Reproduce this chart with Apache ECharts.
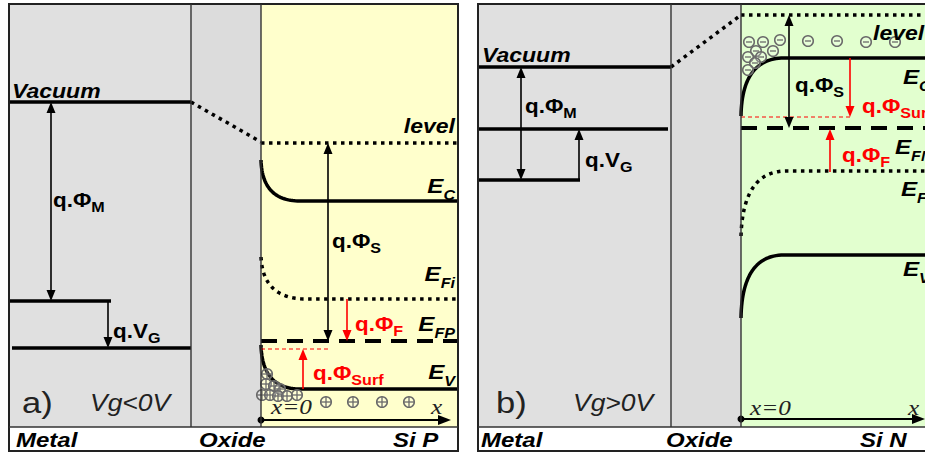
<!DOCTYPE html>
<html><head><meta charset="utf-8">
<script src="https://cdn.jsdelivr.net/npm/echarts@6/dist/echarts.min.js"></script>
<style>html,body{margin:0;padding:0;background:#fff}#c{width:925px;height:454px}</style>
</head><body><div id="c"></div>
<script>
// ================= DATA (diagram units; y grows downward = lower energy) =================
// zone boundaries per panel [a, b]
const frameLeft  = [9, 478];
const metalOxide = [191, 671];
const oxideSi    = [261, 741];
const frameRight = [458, 940];
const frameTop = 4, stripTop = 427, frameBottom = 451;

// Panel a) Vg<0V, Si P
const vacMetalA   = [[9, 102], [191, 102]];
const vacOxideA   = [[191, 102], [261, 142]];
const vacSiA      = [[261, 143], [458, 143]];
const metalLvl1A  = [[9, 301], [111, 301]];
const metalLvl2A  = [[12, 348], [191, 348]];
// bent bands: [surface point, bend corner, end of bending, bulk end]
const ecA  = [[261, 160], [262, 201], [300, 201], [458, 201]];
const efiA = [[261, 257], [263, 299], [306, 299], [458, 299]];
const efpA = [[261, 341], [458, 341]];
const evA  = [[261, 345], [262, 389], [300, 389], [458, 389]];
const surfA = [[261, 349], [330, 349]];

// Panel b) Vg>0V, Si N
const vacMetalB   = [[478, 67], [671, 67]];
const vacOxideB   = [[671, 67], [741, 15]];
const vacSiB      = [[741, 15], [925, 15]];
const metalLvl1B  = [[478, 129], [668, 129]];
const metalLvl2B  = [[478, 180], [580, 180]];
const ecB  = [[741, 116], [742, 58], [784, 58], [925, 58]];
const efnB = [[741, 128], [925, 128]];
const efiB = [[741, 236], [743, 171], [786, 171], [925, 171]];
const evB  = [[741, 318], [742, 255], [784, 255], [925, 255]];
const surfB = [[741, 117], [850, 117]];

// vertical arrows: [x, yFrom, yTo, bothHeads]
const blackArrows = [[51, 102, 301, 1], [108, 301, 348, 0], [328, 143, 341, 1],
                     [521, 67, 180, 1], [579, 180, 129, 0], [789, 15, 128, 1]];
const redArrows   = [[347, 299, 341, 0], [303, 389, 349, 0], [850, 58, 117, 0], [830, 172, 129, 0]];
// x axis arrows: [xFrom, xTo, y]
const xAxisArrows = [[261, 451, 420], [741, 925, 419]];

// charges
const holesA = [[267, 374], [266, 384], [274, 386], [280, 389], [262, 395], [270, 395], [278, 396], [287, 396], [297, 395],
                [326, 402], [353, 402], [382, 402], [409, 402]];
const electronsB = [[749, 42], [763, 42], [780, 40], [756, 51], [773, 51], [748, 57], [761, 57], [755, 63], [748, 70],
                    [808, 41], [837, 41], [866, 42], [895, 42]];

// text labels: [x, y, text]
const regionLabels = [[16, 440, 'Metal'], [199, 440, 'Oxide'], [393, 440, 'Si P'],
                      [481, 440, 'Metal'], [666, 440, 'Oxide'], [860, 440, 'Si N']];
const vacuumLabels = [[12, 91, 'Vacuum'], [482, 55, 'Vacuum']];
const levelLabelsA = [[455, 126, 'level'], [455, 189, '{m|E}{s|C}'], [455, 277, '{m|E}{s|Fi}'],
                      [455, 327, '{m|E}{s|FP}'], [455, 375, '{m|E}{s|V}']];
const levelLabelsB = [[873, 33, 'level'], [903, 80, '{m|E}{s|C}'], [895, 150, '{m|E}{s|FN}'],
                      [901, 192, '{m|E}{s|Fi}'], [903, 272, '{m|E}{s|V}']];
const qLabelsBlack = [[53, 202, '{m|q.Φ}{s|M}'], [113, 333, '{m|q.V}{s|G}'], [332, 243, '{m|q.Φ}{s|S}'],
                      [525, 108, '{m|q.Φ}{s|M}'], [585, 162, '{m|q.V}{s|G}'], [795, 87, '{m|q.Φ}{s|S}']];
const qLabelsRed   = [[355, 326, '{m|q.Φ}{s|F}'], [313, 375, '{m|q.Φ}{s|Surf}'],
                      [862, 108, '{m|q.Φ}{s|Surf}'], [842, 157, '{m|q.Φ}{s|F}']];
const panelTags = [[22, 403, 'a)'], [496, 403, 'b)']];
const biasLabels = [[90, 403, 'Vg<0V'], [573, 403, 'Vg>0V']];
const axisLabels = [[271, 407, 'x=0'], [431, 407, 'x'], [750, 408, 'x=0'], [908, 408, 'x']];

// ================= RENDERING =================
const SANS = '"Liberation Sans", Arial, sans-serif';
const SERIF = '"Liberation Serif", "Times New Roman", serif';
const SX = 1.15;
const DOT = [3.5, 4.5];
const chart = echarts.init(document.getElementById('c'), null, {renderer: 'svg', width: 925, height: 454});

function base(data, renderItem, z) {
  return {type: 'custom', coordinateSystem: 'cartesian2d', silent: true, animation: false, clip: true, z: z || 2,
          data: data, renderItem: renderItem};
}
function zoneSeries(x0s, x1s, fill, z) {
  const data = x0s.map((x, i) => [x, frameTop, x1s[i], stripTop]);
  return base(data, (p, api) => {
    const a = api.coord([api.value(0), api.value(1)]), b = api.coord([api.value(2), api.value(3)]);
    return {type: 'rect', shape: {x: a[0], y: a[1], width: b[0] - a[0], height: b[1] - a[1]}, style: {fill: fill}};
  }, z || 1);
}
function lineSeries(data, color, width, type, z) {
  return {type: 'line', data: data, showSymbol: false, symbol: 'none', silent: true, animation: false, z: z || 3,
          lineStyle: {color: color, width: width, type: type || 'solid', cap: 'butt', join: 'round'}};
}
// bent band: quadratic bend from surface point to bulk, then flat
function bandSeries(pts, color, width, dash) {
  return base([pts[0]], (p, api) => {
    const s = api.coord(pts[0]), c = api.coord(pts[1]), e = api.coord(pts[2]), f = api.coord(pts[3]);
    const poly = [];
    for (let i = 0; i <= 30; i++) {
      const t = i / 30, u = 1 - t;
      poly.push([u * u * s[0] + 2 * u * t * c[0] + t * t * e[0], u * u * s[1] + 2 * u * t * c[1] + t * t * e[1]]);
    }
    poly.push(f);
    return {type: 'polyline', shape: {points: poly},
            style: {stroke: color, lineWidth: width, fill: null, lineDash: dash || null, lineCap: 'butt', lineJoin: 'round'}};
  }, 3);
}
function arrowSeries(data, color) {
  return base(data, (p, api) => {
    const d = data[p.dataIndex];
    const a = api.coord([d[0], d[1]]), b = api.coord([d[0], d[2]]);
    const dir = Math.sign(b[1] - a[1]);
    const L = 11, W = 4.5;
    const y0 = d[3] ? a[1] + dir * L : a[1];
    const ch = [
      {type: 'line', shape: {x1: a[0], y1: y0, x2: b[0], y2: b[1] - dir * L}, style: {stroke: color, lineWidth: 1.6}},
      {type: 'polygon', shape: {points: [[b[0], b[1]], [b[0] - W, b[1] - dir * L], [b[0] + W, b[1] - dir * L]]}, style: {fill: color}}
    ];
    if (d[3]) ch.push({type: 'polygon', shape: {points: [[a[0], a[1]], [a[0] - W, a[1] + dir * L], [a[0] + W, a[1] + dir * L]]}, style: {fill: color}});
    return {type: 'group', children: ch};
  }, 6);
}
function xArrowSeries(data) {
  return base(data, (p, api) => {
    const d = data[p.dataIndex];
    const a = api.coord([d[0], d[2]]), b = api.coord([d[1], d[2]]);
    return {type: 'group', children: [
      {type: 'circle', shape: {cx: a[0], cy: a[1], r: 3.5}, style: {fill: '#000'}},
      {type: 'line', shape: {x1: a[0], y1: a[1], x2: b[0] - 12, y2: b[1]}, style: {stroke: '#000', lineWidth: 1.8}},
      {type: 'polygon', shape: {points: [[b[0], b[1]], [b[0] - 13, b[1] - 5], [b[0] - 13, b[1] + 5]]}, style: {fill: '#000'}}
    ]};
  }, 6);
}
function chargeSeries(data, plus) {
  return base(data, (p, api) => {
    const d = data[p.dataIndex];
    const c = api.coord(d);
    const r = 5.3, col = '#6a6a6a';
    const ch = [
      {type: 'circle', shape: {cx: c[0], cy: c[1], r: r}, style: {fill: 'rgba(255,255,255,0.2)', stroke: col, lineWidth: 1.5}},
      {type: 'line', shape: {x1: c[0] - r, y1: c[1], x2: c[0] + r, y2: c[1]}, style: {stroke: col, lineWidth: 1.3}}
    ];
    if (plus) ch.push({type: 'line', shape: {x1: c[0], y1: c[1] - r, x2: c[0], y2: c[1] + r}, style: {stroke: col, lineWidth: 1.3}});
    else ch[1].shape = {x1: c[0] - 3, y1: c[1], x2: c[0] + 3, y2: c[1]};
    return {type: 'group', children: ch};
  }, 5);
}
function textSeries(data, st, rich, sx) {
  return base(data, (p, api) => {
    const d = data[p.dataIndex];
    const c = api.coord([d[0], d[1]]);
    return {type: 'text', x: c[0], y: c[1], scaleX: sx || SX, scaleY: 1,
      style: Object.assign({text: d[2], x: 0, y: 0, verticalAlign: 'middle', align: 'left', fontFamily: SANS, fill: '#000'}, st,
                           rich ? {rich: rich} : {})};
  }, 8);
}
function richE(color) {
  return {m: {fontSize: 21, fontWeight: 'bold', fontStyle: 'italic', fontFamily: SANS, fill: color, verticalAlign: 'bottom', padding: [0, 0, 5, 0]},
          s: {fontSize: 14, fontWeight: 'bold', fontStyle: 'italic', fontFamily: SANS, fill: color, verticalAlign: 'bottom'}};
}
function richQ(color) {
  return {m: {fontSize: 19.5, fontWeight: 'bold', fontFamily: SANS, fill: color, verticalAlign: 'bottom', padding: [0, 0, 4, 0]},
          s: {fontSize: 14, fontWeight: 'bold', fontFamily: SANS, fill: color, verticalAlign: 'bottom'}};
}
function frameSeries() {
  const data = frameLeft.map((x, i) => [x, i]);
  return base(data, (p, api) => {
    const i = p.dataIndex;
    const tl = api.coord([frameLeft[i], frameTop]), br = api.coord([frameRight[i], frameBottom]);
    const mo = api.coord([metalOxide[i], stripTop]), os = api.coord([oxideSi[i], stripTop]);
    const line = (x1, y1, x2, y2, w) => ({type: 'line', shape: {x1, y1, x2, y2}, style: {stroke: '#333', lineWidth: w}});
    return {type: 'group', children: [
      {type: 'rect', shape: {x: tl[0], y: tl[1], width: br[0] - tl[0], height: br[1] - tl[1]}, style: {fill: 'none', stroke: '#222', lineWidth: 2}},
      line(tl[0], mo[1], br[0], mo[1], 1.6),
      line(mo[0], tl[1], mo[0], mo[1], 1.4),
      line(os[0], tl[1], os[0], os[1], 1.4)
    ]};
  }, 9);
}

const series = [
  zoneSeries(frameLeft, metalOxide, '#e0e0e0'),
  zoneSeries(metalOxide, oxideSi, '#dcdcdc'),
  zoneSeries([oxideSi[0]], [frameRight[0]], '#ffffcc'),
  zoneSeries([oxideSi[1]], [frameRight[1]], '#e2ffcf'),
  // panel a levels
  lineSeries(vacMetalA, '#000', 3.5),
  lineSeries(vacOxideA, '#000', 3.5, DOT),
  lineSeries(vacSiA, '#000', 3.5, DOT),
  lineSeries(metalLvl1A, '#000', 3.5),
  lineSeries(metalLvl2A, '#000', 3.5),
  bandSeries(ecA, '#000', 3.5),
  bandSeries(efiA, '#000', 3.5, DOT),
  lineSeries(efpA, '#000', 4, [16, 10]),
  bandSeries(evA, '#000', 3.5),
  lineSeries(surfA, '#ff0000', 1, [4, 3]),
  // panel b levels
  lineSeries(vacMetalB, '#000', 3.5),
  lineSeries(vacOxideB, '#000', 3.5, DOT),
  lineSeries(vacSiB, '#000', 3.5, DOT),
  lineSeries(metalLvl1B, '#000', 3.5),
  lineSeries(metalLvl2B, '#000', 3.5),
  bandSeries(ecB, '#000', 3.5),
  lineSeries(efnB, '#000', 4, [16, 10]),
  bandSeries(efiB, '#000', 3.5, DOT),
  bandSeries(evB, '#000', 3.5),
  lineSeries(surfB, '#ff0000', 1, [4, 3]),
  // arrows & charges
  arrowSeries(blackArrows, '#000'),
  arrowSeries(redArrows, '#ff0000'),
  xArrowSeries(xAxisArrows),
  chargeSeries(holesA, true),
  chargeSeries(electronsB, false),
  frameSeries(),
  // texts
  textSeries(regionLabels, {fontSize: 20, fontWeight: 'bold', fontStyle: 'italic'}, null, 1.2),
  textSeries(vacuumLabels, {fontSize: 20, fontWeight: 'bold', fontStyle: 'italic'}),
  textSeries(levelLabelsA.slice(0, 1), {fontSize: 20, fontWeight: 'bold', fontStyle: 'italic', align: 'right'}),
  textSeries(levelLabelsA.slice(1), {align: 'right'}, richE('#000')),
  textSeries(levelLabelsB.slice(0, 1), {fontSize: 20, fontWeight: 'bold', fontStyle: 'italic'}),
  textSeries(levelLabelsB.slice(1), {}, richE('#000')),
  textSeries(qLabelsBlack, {}, richQ('#000')),
  textSeries(qLabelsRed, {}, richQ('#ff0000')),
  textSeries(panelTags, {fontSize: 30, fill: '#222'}),
  textSeries(biasLabels, {fontSize: 23, fontStyle: 'italic', fill: '#222'}),
  textSeries(axisLabels, {fontSize: 22, fontStyle: 'italic', fontFamily: SERIF, fill: '#222'})
];

chart.setOption({
  animation: false,
  grid: {left: 0, top: 0, right: 0, bottom: 0},
  xAxis: {type: 'value', min: 0, max: 925, show: false},
  yAxis: {type: 'value', min: 0, max: 454, inverse: true, show: false},
  series: series
});
</script>
</body></html>
